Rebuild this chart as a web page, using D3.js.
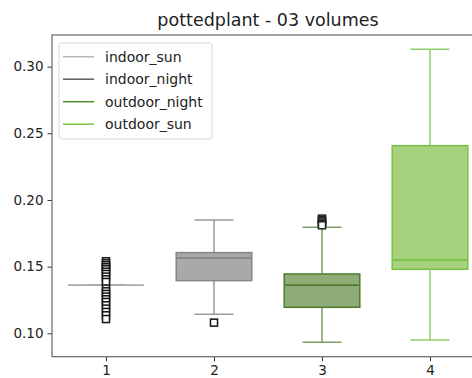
<!DOCTYPE html>
<html>
<head>
<meta charset="utf-8">
<script src="https://cdn.jsdelivr.net/npm/d3@7"></script>
<style>
  html, body { margin: 0; padding: 0; background: #fff; }
  svg { display: block; font-family: "DejaVu Sans", sans-serif; }
</style>
</head>
<body>
<svg id="chart" width="472" height="378"></svg>
<script>
// Box statistics per group
const categories = ["1", "2", "3", "4"];
const q1 = [0.1362, 0.1395, 0.1195, 0.1480];
const medians = [0.1362, 0.1563, 0.1362, 0.1550];
const q3 = [0.1362, 0.1605, 0.1445, 0.2407];
const whiskerLow = [0.1362, 0.1142, 0.0932, 0.0950];
const whiskerHigh = [0.1362, 0.1850, 0.1795, 0.3130];
const outliers = [
  [0.1540, 0.1525, 0.1510, 0.1495, 0.1480, 0.1462, 0.1445, 0.1425, 0.1405, 0.1385,
   0.1335, 0.1315, 0.1295, 0.1275, 0.1255, 0.1235, 0.1210, 0.1185, 0.1160, 0.1135, 0.1107],
  [0.1080],
  [],
  []
];
const yTicks = [0.10, 0.15, 0.20, 0.25, 0.30];
const seriesNames = ["indoor_sun", "indoor_night", "outdoor_night", "outdoor_sun"];

// Styling per group
const edgeColors = ["#ababab", "#858585", "#4e7d2f", "#78c044"];
const whiskerColors = ["#ababab", "#9a9a9a", "#7a9e64", "#92cc6a"];
const fillColors = ["none", "#a9a9a9", "#8eab78", "#a6d27d"];
const legendColors = ["#b5b5b5", "#5a5a5a", "#4b8a25", "#7dc243"];

const svg = d3.select("#chart");
const margin = { left: 52, top: 35, bottom: 356.7 };
const plotRight = 484;

const x = d3.scaleLinear().domain([0.5, 4.5]).range([margin.left, plotRight]);
const y = d3.scaleLinear().domain([0.10, 0.30]).range([333.3, 66.6]);
const yMin = y.invert(margin.bottom), yMax = y.invert(margin.top);
y.domain([yMin, yMax]).range([margin.bottom, margin.top]);

const boxHalf = 0.35, capHalf = 0.18;

// Title
svg.append("text")
  .attr("x", (margin.left + plotRight) / 2)
  .attr("y", 26)
  .attr("text-anchor", "middle")
  .attr("font-size", 17.5)
  .attr("fill", "#222")
  .text("pottedplant - 03 volumes");

const g = svg.append("g");

categories.forEach((c, i) => {
  const cx = x(i + 1);
  const grp = g.append("g");
  // whiskers
  grp.append("line")
    .attr("x1", cx).attr("x2", cx)
    .attr("y1", y(q3[i])).attr("y2", y(whiskerHigh[i]))
    .attr("stroke", whiskerColors[i]).attr("stroke-width", 1.5);
  grp.append("line")
    .attr("x1", cx).attr("x2", cx)
    .attr("y1", y(q1[i])).attr("y2", y(whiskerLow[i]))
    .attr("stroke", whiskerColors[i]).attr("stroke-width", 1.5);
  // caps
  [whiskerHigh[i], whiskerLow[i]].forEach(v => {
    grp.append("line")
      .attr("x1", x(i + 1 - capHalf)).attr("x2", x(i + 1 + capHalf))
      .attr("y1", y(v)).attr("y2", y(v))
      .attr("stroke", whiskerColors[i]).attr("stroke-width", 1.5);
  });
  // box
  grp.append("rect")
    .attr("x", x(i + 1 - boxHalf))
    .attr("y", y(q3[i]))
    .attr("width", x(i + 1 + boxHalf) - x(i + 1 - boxHalf))
    .attr("height", Math.max(0, y(q1[i]) - y(q3[i])))
    .attr("fill", fillColors[i])
    .attr("stroke", edgeColors[i]).attr("stroke-width", 1.5);
  // median
  grp.append("line")
    .attr("x1", x(i + 1 - boxHalf)).attr("x2", x(i + 1 + boxHalf))
    .attr("y1", y(medians[i])).attr("y2", y(medians[i]))
    .attr("stroke", edgeColors[i]).attr("stroke-width", 1.8);
  // outliers
  grp.selectAll("rect.out")
    .data(outliers[i])
    .enter().append("rect")
    .attr("class", "out")
    .attr("x", cx - 3.5).attr("y", d => y(d) - 3.5)
    .attr("width", 7).attr("height", 7)
    .attr("fill", "#fff").attr("stroke", "#111").attr("stroke-width", 1.5);
});

// Box 3 upper outliers
const outliers3 = [0.1860, 0.1850, 0.1840, 0.1830, 0.1820, 0.1810];
g.selectAll("rect.out3")
  .data(outliers3)
  .enter().append("rect")
  .attr("x", x(3) - 3.5).attr("y", d => y(d) - 3.5)
  .attr("width", 7).attr("height", 7)
  .attr("fill", "#fff").attr("stroke", "#222").attr("stroke-width", 1.5);

// Axes
const yAxis = d3.axisLeft(y).tickValues(yTicks).tickFormat(d3.format(".2f")).tickSize(4.5).tickPadding(4);
const xAxis = d3.axisBottom(x).tickValues([1, 2, 3, 4]).tickFormat((d, i) => categories[i]).tickSize(4.5).tickPadding(4);

const ya = svg.append("g").attr("transform", `translate(${margin.left},0)`).call(yAxis);
const xa = svg.append("g").attr("transform", `translate(0,${margin.bottom})`).call(xAxis);
[ya, xa].forEach(a => {
  a.select(".domain").remove();
  a.selectAll("line").attr("stroke", "#333").attr("stroke-width", 1);
  a.selectAll("text").attr("font-size", 13.5).attr("fill", "#222").attr("font-family", "DejaVu Sans");
});

// Frame
svg.append("rect")
  .attr("x", margin.left).attr("y", margin.top)
  .attr("width", plotRight - margin.left).attr("height", margin.bottom - margin.top)
  .attr("fill", "none").attr("stroke", "#666").attr("stroke-width", 1.2);

// Legend
const lg = svg.append("g");
lg.append("rect")
  .attr("x", 59).attr("y", 43).attr("width", 153).attr("height", 96)
  .attr("rx", 3)
  .attr("fill", "#fff").attr("fill-opacity", 0.8)
  .attr("stroke", "#d6d6d6").attr("stroke-width", 1);
seriesNames.forEach((name, i) => {
  const ly = 56.7 + i * 22.5;
  lg.append("line")
    .attr("x1", 63).attr("x2", 94).attr("y1", ly).attr("y2", ly)
    .attr("stroke", legendColors[i]).attr("stroke-width", 1.5);
  lg.append("text")
    .attr("x", 105).attr("y", ly + 5)
    .attr("font-size", 14).attr("fill", "#222")
    .text(name);
});
</script>
</body>
</html>
